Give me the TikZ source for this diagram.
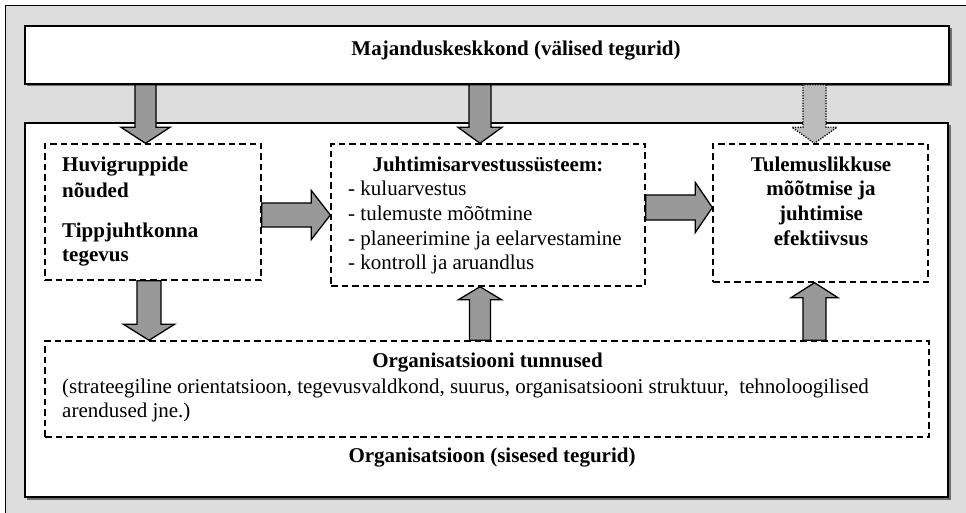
\documentclass[tikz,border=0pt]{standalone}
\usepackage{fontspec}
\setmainfont{Liberation Serif}
\usetikzlibrary{calc}

\definecolor{bggray}{RGB}{221,221,221}
\definecolor{arrowgray}{RGB}{153,153,153}
\definecolor{lightarrow}{RGB}{188,188,188}
\definecolor{shadowgray}{RGB}{110,110,110}

% block arrow: style, from, to, shaft half width, head half width, head length
\newcommand\bArrow[6]{%
  \coordinate (hb) at ($(#3)!#6!(#2)$);
  \draw[#1] ($(#2)!#4!90:(#3)$) -- ($(hb)!#4!90:(#3)$) -- ($(hb)!#5!90:(#3)$)
    -- (#3) -- ($(hb)!#5!-90:(#3)$) -- ($(hb)!#4!-90:(#3)$) -- ($(#2)!#4!-90:(#3)$) -- cycle;
}

\tikzset{
  solidbox/.style={draw, line width=1.5pt, fill=white, inner sep=0pt},
  dashbox/.style={draw, line width=1.4pt, dash pattern=on 6.5pt off 4pt, inner sep=0pt},
  txt/.style={inner sep=0pt, font=\fontsize{21}{24.5}\selectfont},
  btxt/.style={txt, font=\fontsize{21}{24.5}\selectfont\bfseries},
  blockarrow/.style={fill=arrowgray, draw=black, line width=1.3pt, line join=miter},
  softarrow/.style={fill=lightarrow, draw=black, line width=1.3pt, dash pattern=on 1.2pt off 1.4pt},
}

\begin{document}
\begin{tikzpicture}[x=1pt, y=-1pt]
  \useasboundingbox (0,0) rectangle (966,513);

  % textured backdrop with its frame
  \fill[white] (0,0) rectangle (966,513);
  \fill[bggray] (5,5) rectangle (966,513);
  \draw[line width=1.5pt] (5.5,513) -- (5.5,5.5) -- (966,5.5);

  % shadows of the two solid boxes
  \fill[shadowgray] (27,28) rectangle (951.5,86.5);
  \fill[shadowgray] (27,125) rectangle (950.5,499.5);

  % solid boxes
  \node[solidbox, minimum width=924pt, minimum height=58pt] (top) at (487,55) {};
  \node[solidbox, minimum width=923pt, minimum height=374pt] (org) at (486.5,310) {};

  % dashed boxes
  \node[dashbox, minimum width=216pt, minimum height=136pt] (h) at (153,212) {};
  \node[dashbox, minimum width=314pt, minimum height=142pt] (j) at (488,215) {};
  \node[dashbox, minimum width=215pt, minimum height=138pt] (t) at (820.5,213) {};
  \node[dashbox, minimum width=884pt, minimum height=96pt] (o) at (487,389) {};

  % texts
  \node[btxt, anchor=base] (toptitle) at (516,56) {Majanduskeskkond (välised tegurid)};

  \node[btxt, anchor=base west] (h1) at (62,172) {Huvigruppide};
  \node[btxt, anchor=base west] (h2) at (62,197) {nõuded};
  \node[btxt, anchor=base west] (h3) at (62,237) {Tippjuhtkonna};
  \node[btxt, anchor=base west] (h4) at (62,261) {tegevus};

  \node[btxt, anchor=base] (jtitle) at (488,172) {Juhtimisarvestussüsteem:};
  \node[txt, anchor=base west] (j1) at (348,196) {- kuluarvestus};
  \node[txt, anchor=base west] (j2) at (348,221) {- tulemuste mõõtmine};
  \node[txt, anchor=base west] (j3) at (348,245) {- planeerimine ja eelarvestamine};
  \node[txt, anchor=base west] (j4) at (348,269) {- kontroll ja aruandlus};

  \node[btxt, anchor=base] (t1) at (821,172) {Tulemuslikkuse};
  \node[btxt, anchor=base] (t2) at (821,196) {mõõtmise ja};
  \node[btxt, anchor=base] (t3) at (821,220) {juhtimise};
  \node[btxt, anchor=base] (t4) at (821,245) {efektiivsus};

  \node[btxt, anchor=base] (otitle) at (487.5,367) {Organisatsiooni tunnused};
  \node[txt, anchor=base west] (o1) at (62,393) {(strateegiline orientatsioon, tegevusvaldkond, suurus, organisatsiooni struktuur, \ tehnoloogilised};
  \node[txt, anchor=base west] (o2) at (62,417) {arendused jne.)};

  \node[btxt, anchor=base] (orglabel) at (492,462) {Organisatsioon (sisesed tegurid)};

  % block arrows between the boxes
  \bArrow{blockarrow}{145.5,0 |- top.south}{145.5,0 |- h.north}{10.5pt}{24.5pt}{16pt}
  \bArrow{blockarrow}{480,0 |- top.south}{480,0 |- j.north}{11pt}{22pt}{16pt}
  \bArrow{softarrow}{814.5,0 |- top.south}{814.5,0 |- t.north}{11.5pt}{22.5pt}{16pt}
  \bArrow{blockarrow}{h.east |- 0,215}{j.west |- 0,215}{12pt}{24.5pt}{19pt}
  \bArrow{blockarrow}{j.east |- 0,207.5}{t.west |- 0,207.5}{12.5pt}{25pt}{17pt}
  \bArrow{blockarrow}{149,0 |- h.south}{149,0 |- o.north}{12pt}{25.5pt}{16pt}
  \bArrow{blockarrow}{480,0 |- o.north}{480,0 |- j.south}{10.5pt}{21.5pt}{13pt}
  \bArrow{blockarrow}{814.5,0 |- o.north}{814.5,0 |- t.south}{11.5pt}{23.5pt}{15pt}
\end{tikzpicture}
\end{document}
